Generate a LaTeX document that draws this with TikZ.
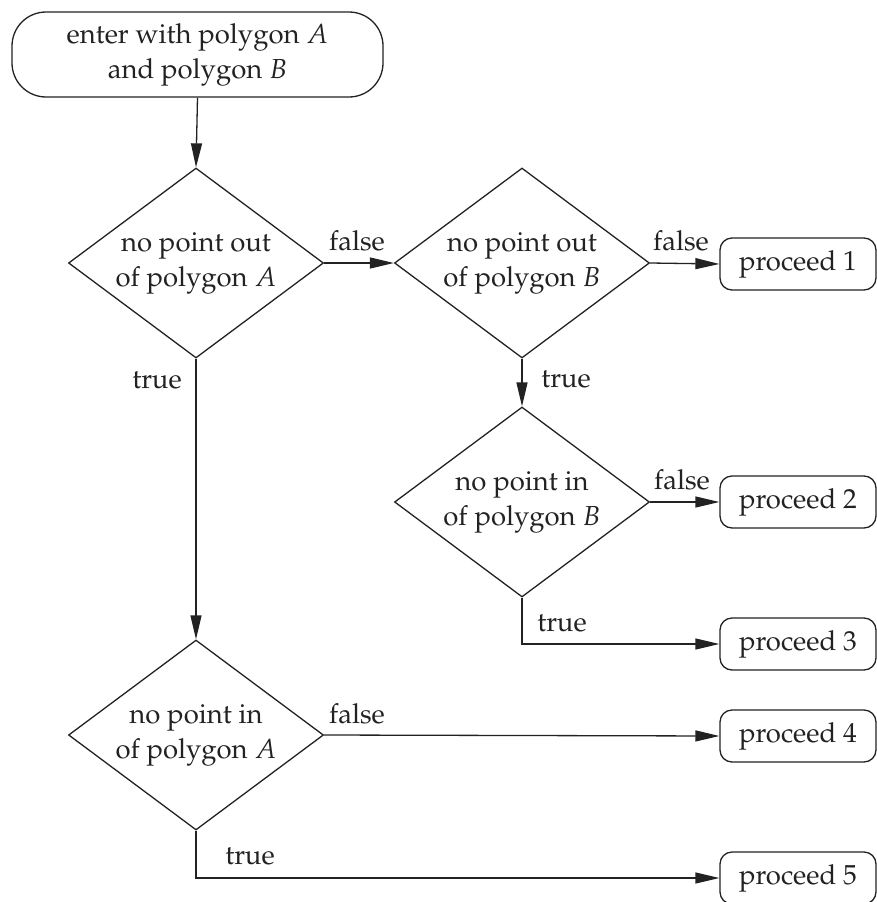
\documentclass[tikz,border=0pt]{standalone}
\usepackage[T1]{fontenc}
\usepackage{mathpazo}
\usetikzlibrary{shapes.geometric,arrows.meta}

\definecolor{ink}{HTML}{222222}

\tikzset{
  txt/.style={font=\fontsize{27.5}{35}\selectfont, text=ink},
  startbox/.style={txt, draw=ink, line width=1.3pt, rectangle, rounded corners=34pt,
    minimum width=371pt, minimum height=85pt, align=center, inner sep=0pt},
  decision/.style={txt, draw=ink, line width=1.3pt, diamond, aspect=1.34,
    minimum width=255pt, minimum height=190pt, align=center, inner sep=0pt},
  procbox/.style={txt, draw=ink, line width=1.3pt, rectangle, rounded corners=12pt,
    minimum width=156pt, minimum height=52pt, inner sep=0pt},
  flow/.style={draw=ink, line width=1.3pt, -{Triangle[length=24pt,width=11pt]}},
  lbl/.style={txt, inner sep=0pt}
}

\begin{document}
\begin{tikzpicture}[x=1pt,y=-1pt]
  \useasboundingbox (0,0) rectangle (876,902);

  % start node
  \node[startbox] (start) at (197.5,54.5) {enter with polygon $A$\\and polygon $B$};

  % decisions
  \node[decision] (d1) at (196,263) {no point out\\of polygon $A$};
  \node[decision] (d2) at (522,263) {no point out\\of polygon $B$};
  \node[decision] (d3) at (522,502) {no point in\\of polygon $B$};
  \node[decision] (d4) at (196,735) {no point in\\of polygon $A$};

  % outcomes
  \node[procbox] (p1) at (798,264) {proceed 1};
  \node[procbox] (p2) at (798,502) {proceed 2};
  \node[procbox] (p3) at (798,644) {proceed 3};
  \node[procbox] (p4) at (798,736) {proceed 4};
  \node[procbox] (p5) at (798,878) {proceed 5};

  % connectors
  \draw[flow] (start.south) -- (d1.north);
  \draw[flow] (d1.east) -- (d2.west);
  \draw[flow] (d2.east) -- (p1.west);
  \draw[flow] (d2.south) -- (d3.north);
  \draw[flow] (d3.east) -- (p2.west);
  \draw[flow] (d3.south) |- (p3.west);
  \draw[flow] (d1.south) -- (d4.north);
  \draw[flow] (d4.east) -- (p4.west);
  \draw[flow] (d4.south) |- (p5.west);

  % branch labels
  \node[lbl] (f1) at (357,241) {false};
  \node[lbl] (f2) at (681,241) {false};
  \node[lbl] (t2) at (566,379) {true};
  \node[lbl] (f3) at (682,480) {false};
  \node[lbl] (t3) at (562,623) {true};
  \node[lbl] (t1) at (157,380) {true};
  \node[lbl] (f4) at (357,714) {false};
  \node[lbl] (t4) at (250,856) {true};
\end{tikzpicture}
\end{document}
